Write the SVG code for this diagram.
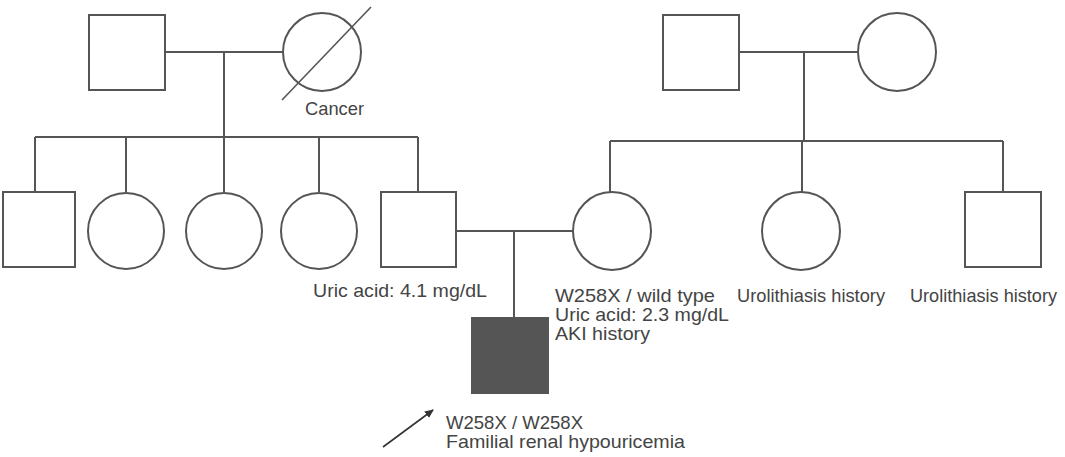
<svg xmlns="http://www.w3.org/2000/svg" width="1065" height="457" viewBox="0 0 1065 457">
<style>
.n{fill:#fff;stroke:#555;stroke-width:2}
.a{fill:#555;stroke:#555;stroke-width:2}
.c line,.c polyline{stroke:#555;stroke-width:2;fill:none}
.d{stroke:#555;stroke-width:1.6}
text{font-family:"Liberation Sans",Arial,sans-serif;font-size:19px;fill:#444}
</style>
<defs>
<marker id="ah" markerWidth="10" markerHeight="10" refX="8" refY="4" orient="auto" markerUnits="userSpaceOnUse">
<path d="M0,0 L9,4 L0,8 Z" fill="#333"/>
</marker>
</defs>
<rect width="1065" height="457" fill="#fff"/>
<g class="c" id="connectors">
<line x1="165" y1="52" x2="283" y2="52"/>
<line x1="224" y1="52" x2="224" y2="137"/>
<line x1="35" y1="137" x2="418" y2="137"/>
<line x1="35" y1="137" x2="35" y2="192"/>
<line x1="126" y1="137" x2="126" y2="192"/>
<line x1="224" y1="137" x2="224" y2="192"/>
<line x1="319" y1="137" x2="319" y2="192"/>
<line x1="418" y1="137" x2="418" y2="192"/>
<line x1="739" y1="52" x2="858" y2="52"/>
<line x1="804" y1="52" x2="804" y2="141"/>
<line x1="610" y1="141" x2="1003" y2="141"/>
<line x1="610" y1="141" x2="610" y2="193"/>
<line x1="802" y1="141" x2="802" y2="193"/>
<line x1="1003" y1="141" x2="1003" y2="192"/>
<line x1="456" y1="231" x2="573" y2="231"/>
<line x1="514" y1="231" x2="514" y2="318"/>
<line x1="383" y1="447" x2="433" y2="410" style="stroke:#333;stroke-width:1.6" marker-end="url(#ah)"/>
</g>
<g id="gf1"><rect class="n" x="89" y="15" width="76" height="75"/></g>
<g id="gm1"><circle class="n" cx="322" cy="52" r="39"/><line class="d" x1="282" y1="100" x2="371" y2="7"/><text x="305" y="115" textLength="59" lengthAdjust="spacingAndGlyphs">Cancer</text></g>
<g id="gf2"><rect class="n" x="663" y="15" width="76" height="75"/></g>
<g id="gm2"><circle class="n" cx="897" cy="52" r="39"/></g>
<g id="c1"><rect class="n" x="3" y="192" width="72" height="75"/></g>
<g id="c2"><circle class="n" cx="126" cy="231" r="38"/></g>
<g id="c3"><circle class="n" cx="224" cy="231" r="38"/></g>
<g id="c4"><circle class="n" cx="319" cy="231" r="38"/></g>
<g id="father"><rect class="n" x="381" y="192" width="75" height="75"/><text x="313" y="297" textLength="174" lengthAdjust="spacingAndGlyphs">Uric acid: 4.1 mg/dL</text></g>
<g id="mother"><circle class="n" cx="612" cy="231" r="39"/>
<text x="555" y="302" textLength="160" lengthAdjust="spacingAndGlyphs">W258X / wild type</text>
<text x="555" y="321" textLength="174" lengthAdjust="spacingAndGlyphs">Uric acid: 2.3 mg/dL</text>
<text x="555" y="340" textLength="95" lengthAdjust="spacingAndGlyphs">AKI history</text></g>
<g id="aunt"><circle class="n" cx="801" cy="231" r="39"/><text x="737" y="302" textLength="148" lengthAdjust="spacingAndGlyphs">Urolithiasis history</text></g>
<g id="uncle"><rect class="n" x="965" y="192" width="76" height="75"/><text x="910" y="302" textLength="147" lengthAdjust="spacingAndGlyphs">Urolithiasis history</text></g>
<g id="proband"><rect class="a" x="472" y="318" width="76" height="75"/>
<text x="446" y="429" textLength="137" lengthAdjust="spacingAndGlyphs">W258X / W258X</text>
<text x="446" y="448" textLength="239" lengthAdjust="spacingAndGlyphs">Familial renal hypouricemia</text></g>
</svg>
